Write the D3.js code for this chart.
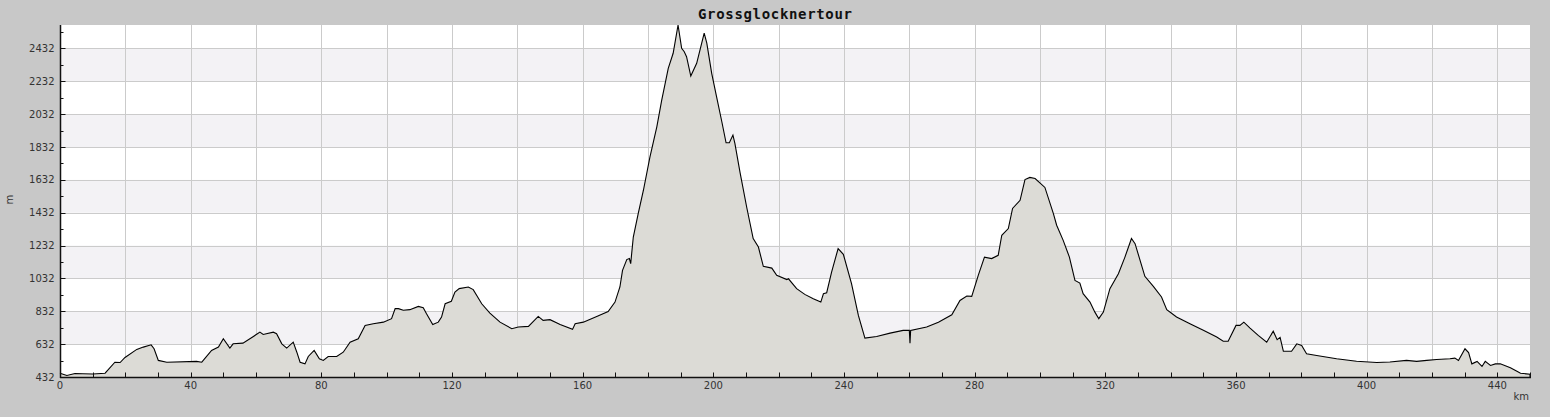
<!DOCTYPE html>
<html>
<head>
<meta charset="utf-8">
<script src="https://cdn.jsdelivr.net/npm/d3@7"></script>
<style>
  html, body { margin: 0; padding: 0; background: #c8c8c8; }
  #chart { width: 1550px; height: 417px; }
</style>
</head>
<body>
<div id="chart"></div>
<script>
const title = 'Grossglocknertour'

// distance along the route (km) and altitude (m)
const km = [0, 2.1, 4.6, 7, 10, 13.8, 16.8, 18.4, 19.9, 23.5, 25.5, 27.9, 28.8, 30.1, 32.7, 41.8, 43.4,
  46.4, 48.5, 50, 52, 53, 56, 59.2, 61.2, 62.2, 65.3, 66.3, 67.9, 69.4, 71.4, 72.5, 73.5, 75, 76,
  77.8, 79.4, 80.6, 82.1, 84.7, 86.7, 88.8, 91.3, 93.4, 95.9, 99, 101.5, 102.6, 103.6, 105.1, 107.1,
  109.7, 111.2, 112.2, 114.1, 115.8, 116.8, 117.9, 119.8, 120.9, 122.2, 125, 126.5, 129.1, 131.6,
  134.7, 138.3, 140.3, 143.4, 146.4, 147.9, 150, 153.1, 156.9, 157.7, 160.2, 164.3, 167.8, 169.9,
  171.4, 172.2, 173.5, 174.3, 174.7, 175.5, 177, 178.6, 180.6, 182.7, 184.2, 186.2, 187.7, 189.2,
  190.3, 191.1, 191.8, 193.1, 194.9, 197.2, 198, 199.5, 201, 202.6, 203.9, 204.9, 206, 206.6, 208.2,
  210.2, 212.2, 213.8, 215.3, 217.9, 219.4, 222.5, 223, 225.5, 228, 230.6, 232.9, 233.7, 234.7,
  236.2, 238.2, 239.8, 242.3, 244.4, 246.4, 250, 254.1, 258.1, 260, 260.2, 260.4, 265.3, 268.9, 273,
  275.5, 277.6, 279.1, 281.1, 283, 285.2, 287.2, 288.3, 290.3, 291.6, 293.9, 295.4, 296.9, 298.5,
  301.5, 304.1, 305.1, 307.1, 309, 310.7, 312.2, 313.2, 315.3, 316.8, 318, 319.4, 321.4, 324, 326,
  328, 329.1, 332.1, 334.7, 337.2, 338.8, 341.8, 345.9, 350, 354.1, 356.1, 357.6, 360, 361.2, 362.4,
  364.3, 366.8, 369.4, 371.4, 372.6, 373.5, 374.5, 377, 378.6, 380.1, 381.6, 384.7, 390.8, 396.9,
  403.1, 407.1, 412.2, 415.3, 418.4, 421.4, 425.5, 427, 428.1, 430.1, 431.2, 432.2, 433.8, 435.3,
  436.3, 437.9, 439.4, 440.9, 444, 446, 447.1, 450]

const altitude = [455, 441, 453, 452, 450, 455, 522, 520, 551, 600, 614, 628, 604, 533, 522, 527, 522,
  594, 614, 665, 608, 634, 638, 679, 705, 691, 705, 696, 634, 608, 644, 583, 522, 512, 557,
  594, 543, 533, 557, 557, 583, 644, 665, 746, 756, 766, 787, 848, 848, 838, 842,
  862, 854, 817, 752, 766, 797, 878, 893, 949, 970, 980, 964, 878, 821,
  766, 726, 736, 740, 801, 777, 781, 752, 722, 756, 766, 801, 831, 888,
  980, 1081, 1147, 1153, 1122, 1284, 1427, 1569, 1772, 1955, 2118, 2311, 2403, 2575,
  2433, 2412, 2382, 2264, 2342, 2525, 2464, 2281, 2138, 1986, 1858, 1858, 1905, 1854, 1675,
  1467, 1275, 1223, 1106, 1095, 1051, 1025, 1030, 970, 935, 909, 888, 939, 945,
  1071, 1214, 1179, 1000, 807, 669, 679, 699, 716, 716, 638, 716, 736, 766, 811,
  898, 925, 923, 1051, 1162, 1153, 1173, 1295, 1336, 1458, 1508, 1634, 1647, 1640,
  1586, 1427, 1356, 1264, 1162, 1020, 1004, 939, 888, 827, 787, 827, 970, 1061, 1162,
  1275, 1244, 1045, 984, 919, 842, 797, 756, 716, 675, 650, 650, 746, 746, 766,
  730, 685, 644, 711, 659, 673, 589, 589, 634, 624, 573, 563, 543, 528,
  520, 523, 533, 527, 533, 539, 543, 547, 533, 604, 581, 512, 527, 496,
  527, 502, 512, 512, 488, 467, 455, 449]

const yTicks = [432, 632, 832, 1032, 1232, 1432, 1632, 1832, 2032, 2232, 2432]
const xTicks = [0, 40, 80, 120, 160, 200, 240, 280, 320, 360, 400, 440]

const width = 1550
const height = 417
const margin = { left: 60, right: 20, top: 25, bottom: 40 }

const svg = d3.select('#chart')
  .append('svg')
  .attr('width', width)
  .attr('height', height)
  .style('font-family', '"DejaVu Sans", sans-serif')

const data = km.map((d, i) => ({ km: d, alt: altitude[i] }))

const x = d3.scaleLinear()
  .domain([0, 450])
  .range([margin.left, width - margin.right])

const y = d3.scaleLinear()
  .domain([432, 2575])
  .range([height - margin.bottom, margin.top])

// plot background and alternating bands
svg.append('rect')
  .attr('x', x(0))
  .attr('y', y(2575))
  .attr('width', x(450) - x(0))
  .attr('height', y(432) - y(2575))
  .attr('fill', '#ffffff')

svg.selectAll('.band')
  .data(yTicks.filter((d, i) => i % 2 === 1))
  .enter()
  .append('rect')
  .attr('class', 'band')
  .attr('x', x(0))
  .attr('y', d => y(d + 200))
  .attr('width', x(450) - x(0))
  .attr('height', d => y(d) - y(d + 200))
  .attr('fill', '#f3f2f5')

// grid
svg.selectAll('.hgrid')
  .data(yTicks.slice(1))
  .enter()
  .append('line')
  .attr('class', 'hgrid')
  .attr('x1', x(0))
  .attr('x2', x(450))
  .attr('y1', d => Math.round(y(d)) + 0.5)
  .attr('y2', d => Math.round(y(d)) + 0.5)
  .attr('stroke', '#cbcbcb')

svg.selectAll('.vgrid')
  .data(d3.range(20, 450, 20))
  .enter()
  .append('line')
  .attr('class', 'vgrid')
  .attr('x1', d => Math.round(x(d)) + 0.5)
  .attr('x2', d => Math.round(x(d)) + 0.5)
  .attr('y1', y(2575))
  .attr('y2', y(432))
  .attr('stroke', '#cbcbcb')

// profile
const area = d3.area()
  .x(d => x(d.km))
  .y0(y(432))
  .y1(d => y(d.alt))

svg.append('path')
  .datum(data)
  .attr('d', area)
  .attr('fill', '#dcdbd6')

const line = d3.line()
  .x(d => x(d.km))
  .y(d => y(d.alt))

svg.append('path')
  .datum(data.concat([{ km: 450, alt: 432 }]))
  .attr('d', line)
  .attr('fill', 'none')
  .attr('stroke', '#000000')
  .attr('stroke-width', 1.1)

// axes
const yAxis = svg.append('g')
  .attr('transform', `translate(${x(0) + 0.5},0)`)
yAxis.append('line')
  .attr('y1', y(2575))
  .attr('y2', y(432) + 1)
  .attr('stroke', '#111')
  .attr('stroke-width', 1.5)
yAxis.selectAll('.minor')
  .data(yTicks.map(d => d + 100))
  .enter()
  .append('line')
  .attr('y1', d => Math.round(y(d)) + 0.5)
  .attr('y2', d => Math.round(y(d)) + 0.5)
  .attr('x2', 3)
  .attr('stroke', '#111')
yAxis.selectAll('.major')
  .data(yTicks.slice(1))
  .enter()
  .append('line')
  .attr('y1', d => Math.round(y(d)) + 0.5)
  .attr('y2', d => Math.round(y(d)) + 0.5)
  .attr('x2', 5)
  .attr('stroke', '#111')
yAxis.selectAll('text')
  .data(yTicks)
  .enter()
  .append('text')
  .attr('x', -6)
  .attr('y', d => y(d) + 3.5)
  .attr('text-anchor', 'end')
  .attr('font-size', 10)
  .attr('fill', '#333')
  .text(d => d)

const xAxis = svg.append('g')
  .attr('transform', `translate(0,${y(432) + 0.5})`)
xAxis.append('line')
  .attr('x1', x(0))
  .attr('x2', x(450) + 1)
  .attr('stroke', '#111')
  .attr('stroke-width', 1.5)
xAxis.selectAll('.tick')
  .data(d3.range(10, 451, 10))
  .enter()
  .append('line')
  .attr('x1', d => Math.round(x(d)) + 0.5)
  .attr('x2', d => Math.round(x(d)) + 0.5)
  .attr('y2', -5)
  .attr('stroke', '#111')
xAxis.selectAll('text')
  .data(xTicks)
  .enter()
  .append('text')
  .attr('x', d => x(d))
  .attr('y', 11.5)
  .attr('text-anchor', 'middle')
  .attr('font-size', 10)
  .attr('fill', '#333')
  .text(d => d)

// labels
svg.append('text')
  .attr('x', x(450) - 1)
  .attr('y', 400)
  .attr('text-anchor', 'end')
  .attr('font-size', 10)
  .attr('fill', '#333')
  .text('km')

svg.append('text')
  .attr('transform', 'translate(13,199.5) rotate(-90)')
  .attr('text-anchor', 'middle')
  .attr('font-size', 10)
  .attr('fill', '#333')
  .text('m')

svg.append('text')
  .attr('x', 775)
  .attr('y', 19)
  .attr('text-anchor', 'middle')
  .attr('font-family', '"DejaVu Sans Mono", monospace')
  .attr('font-weight', 'bold')
  .attr('font-size', 14)
  .attr('textLength', 154)
  .attr('fill', '#111')
  .text(title)
</script>
</body>
</html>
